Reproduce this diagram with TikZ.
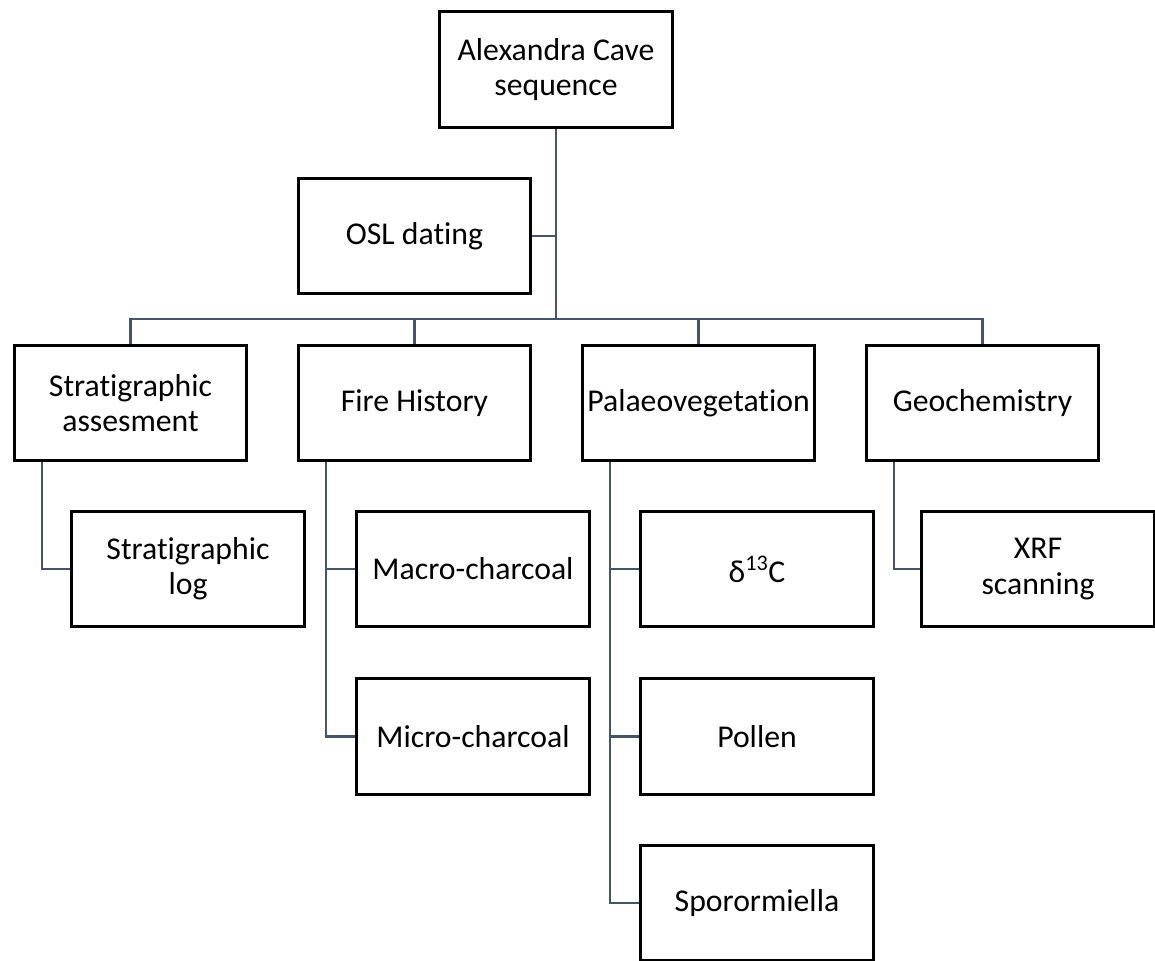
\documentclass[tikz,border=0pt]{standalone}
\usepackage{fontspec}
\setmainfont{Carlito}[Ligatures=NoCommon]
\definecolor{connector}{HTML}{44546A}
\begin{document}
\begin{tikzpicture}[x=0.75pt,y=-0.75pt,
  box/.style={draw=black,fill=white,line width=2.4pt,rectangle,
    minimum width=174.5pt,minimum height=86.5pt,
    align=center,inner sep=0pt,font=\fontsize{23.8}{26.5}\selectfont},
  link/.style={draw=connector,line width=1.6pt}]
\useasboundingbox (0,0) rectangle (1155,960);
\fill[white] (0,0) rectangle (1155,960);
% nodes
\node[box] (alex) at (556,69.5) {\raisebox{-4pt}{\parbox{7em}{\centering Alexandra Cave\\sequence}}};
\node[box] (osl) at (414.5,236) {OSL dating};
\node[box] (strat) at (130.5,403) {Stratigraphic\\assesment};
\node[box] (fire) at (414.5,403) {Fire History};
\node[box] (pal) at (698.5,403) {Palaeovegetation};
\node[box] (geo) at (982.5,403) {Geochemistry};
\node[box] (log) at (188,569) {Stratigraphic\\log};
\node[box] (macro) at (473,569) {Macro-charcoal};
\node[box] (dc) at (757,569) {δ\textsuperscript{13}C};
\node[box] (xrf) at (1038,569) {XRF\\scanning};
\node[box] (micro) at (473,736.5) {Micro-charcoal};
\node[box] (pollen) at (757,736.5) {Pollen};
\node[box] (spor) at (757,903) {Sporormiella};
\coordinate (hub) at (556,319);
% connectors
\path[link] (alex.south) -- (hub);
\path[link] (osl.east) -- (osl.east -| hub);
\path[link] (strat.north) |- (hub) -| (geo.north);
\path[link] (fire.north) -- (fire.north |- hub);
\path[link] (pal.north) -- (pal.north |- hub);
\path[link] ([xshift=22]strat.south west) |- (log.west);
\path[link] ([xshift=22]fire.south west) |- (macro.west);
\path[link] ([xshift=22]fire.south west) |- (micro.west);
\path[link] ([xshift=22]pal.south west) |- (dc.west);
\path[link] ([xshift=22]pal.south west) |- (pollen.west);
\path[link] ([xshift=22]pal.south west) |- (spor.west);
\path[link] ([xshift=22]geo.south west) |- (xrf.west);
\end{tikzpicture}
\end{document}
